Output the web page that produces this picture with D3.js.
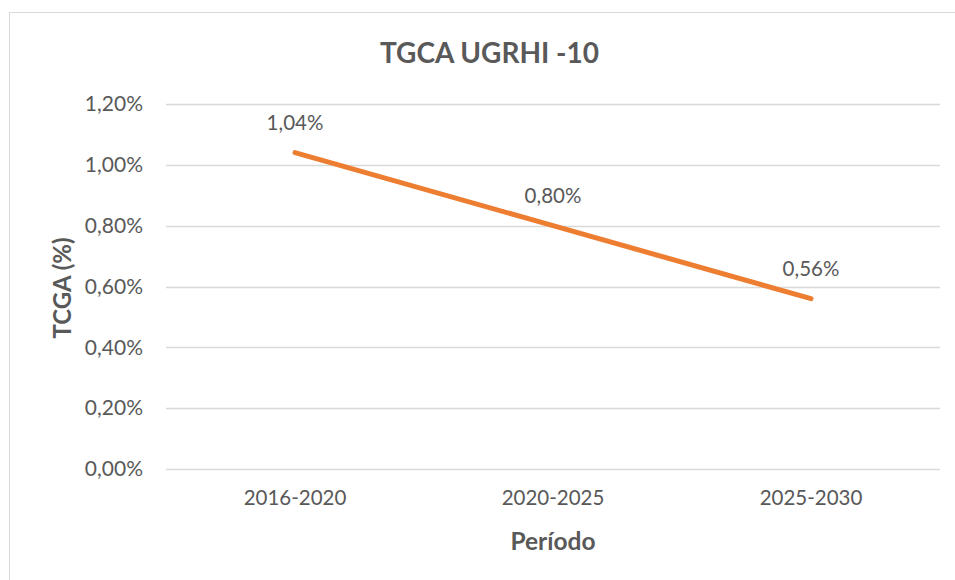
<!DOCTYPE html>
<html>
<head>
<meta charset="utf-8">
<script src="https://cdn.jsdelivr.net/npm/d3@7"></script>
<style>
  html, body { margin: 0; padding: 0; background: #fff; }
  svg { display: block; }
  text { font-family: Lato, "Open Sans", sans-serif; fill: #595959; }
</style>
</head>
<body>
<svg id="chart" width="955" height="580"></svg>
<script>
const title = "TGCA UGRHI -10";
const categories = ["2016-2020", "2020-2025", "2025-2030"];
const values = [0.0104, 0.0080, 0.0056];
const yTicks = [0, 0.002, 0.004, 0.006, 0.008, 0.010, 0.012];
const xAxisTitle = "Período";
const yAxisTitle = "TCGA (%)";

const W = 955, H = 580;
const margin = { left: 166, right: 15, top: 104, bottom: 111 };
const svg = d3.select("#chart");

// chart border
svg.append("rect")
  .attr("x", 9.5).attr("y", 12.5)
  .attr("width", 970).attr("height", 600)
  .attr("fill", "#fff").attr("stroke", "#d9d9d9").attr("stroke-width", 1);

const x = d3.scaleBand().domain(categories).range([margin.left, W - margin.right]);
const y = d3.scaleLinear().domain([0, 0.012]).range([H - margin.bottom, margin.top]);

const fmt = v => (v * 100).toFixed(2).replace(".", ",") + "%";

// gridlines
svg.append("g").selectAll("line").data(yTicks).join("line")
  .attr("x1", margin.left).attr("x2", W - margin.right)
  .attr("y1", d => Math.round(y(d)) + 0.5).attr("y2", d => Math.round(y(d)) + 0.5)
  .attr("stroke", "#d9d9d9").attr("stroke-width", 1.3);

// y axis
const yAxis = d3.axisLeft(y).tickValues(yTicks).tickFormat(fmt).tickSize(0).tickPadding(23);
const gy = svg.append("g").attr("transform", `translate(${margin.left},0)`).call(yAxis);
gy.select(".domain").remove();
gy.selectAll("text").style("font-size", "21px").attr("fill", "#595959").style("font-family", "Lato, sans-serif");

// x axis
const xAxis = d3.axisBottom(x).tickSize(0).tickPadding(21);
const gx = svg.append("g").attr("transform", `translate(0,${H - margin.bottom})`).call(xAxis);
gx.select(".domain").remove();
gx.selectAll("text").style("font-size", "20.5px").attr("fill", "#595959").style("font-family", "Lato, sans-serif");

// line
const line = d3.line().x((d, i) => x(categories[i]) + x.bandwidth() / 2).y(d => y(d));
svg.append("path").datum(values)
  .attr("d", line)
  .attr("fill", "none").attr("stroke", "#ED7D31")
  .attr("stroke-width", 5).attr("stroke-linecap", "round").attr("stroke-linejoin", "round");

// data labels
svg.append("g").selectAll("text").data(values).join("text")
  .attr("x", (d, i) => x(categories[i]) + x.bandwidth() / 2)
  .attr("y", d => y(d) - 23)
  .attr("text-anchor", "middle")
  .style("font-size", "20.5px")
  .text(fmt);

// title
svg.append("text").attr("x", 489.5).attr("y", 63)
  .attr("text-anchor", "middle")
  .style("font-size", "28px").style("font-weight", "bold")
  .text(title);

// axis titles
svg.append("text").attr("x", (margin.left + W - margin.right) / 2).attr("y", 550)
  .attr("text-anchor", "middle")
  .style("font-size", "24.5px").style("font-weight", "bold")
  .text(xAxisTitle);

svg.append("text")
  .attr("transform", `translate(71,288) rotate(-90)`)
  .attr("text-anchor", "middle")
  .style("font-size", "24px").style("font-weight", "bold")
  .text(yAxisTitle);
</script>
</body>
</html>
